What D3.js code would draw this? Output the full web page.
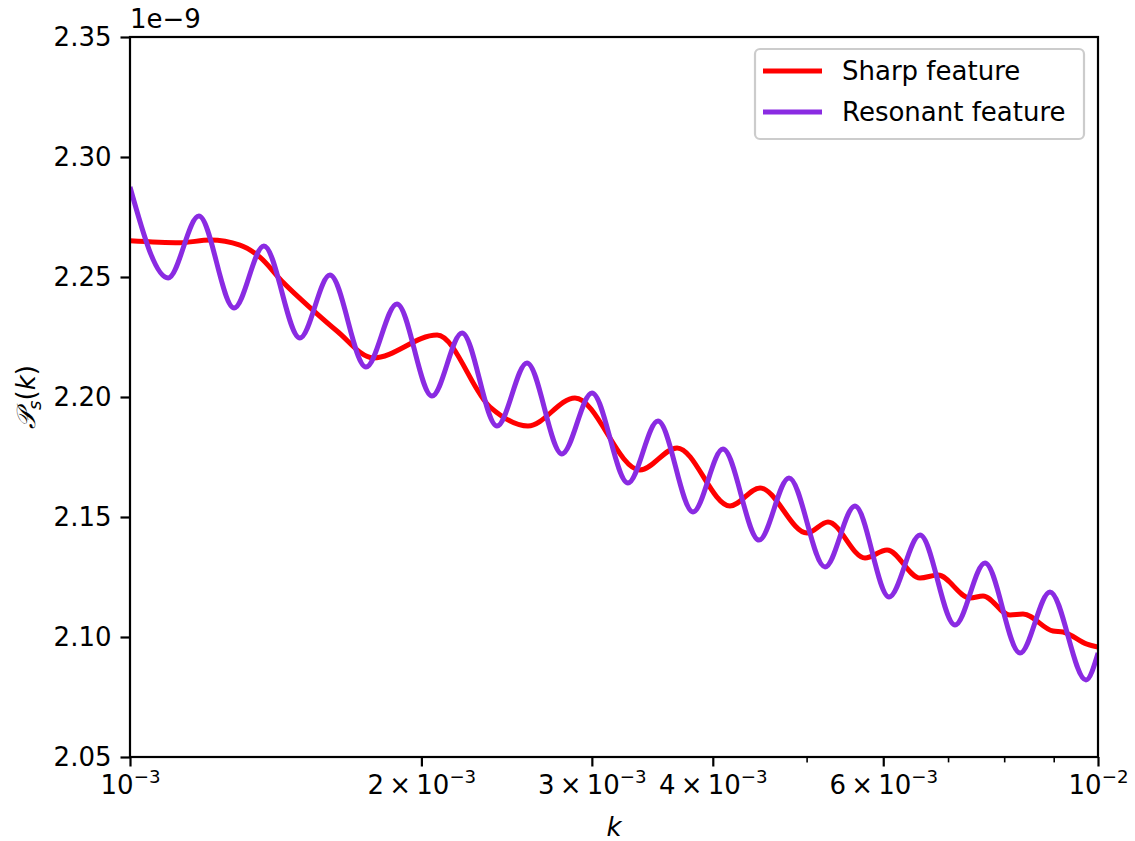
<!DOCTYPE html>
<html lang="en">
<head>
    <meta charset="UTF-8">
    <script src="https://d3js.org/d3.v7.min.js"></script>
    <title>Power spectrum features</title>
    <style>
        body { margin: 0; background: #fff; }
        svg text { font-family: "DejaVu Sans", sans-serif; fill: #000; }
    </style>
</head>
<body>
<div id="chart"></div>
<script>
    // k in units of 1e-3, P_s in units of 1e-9
    var kSharp = [1.000, 1.126, 1.210, 1.299, 1.362, 1.439, 1.545, 1.636, 1.783, 2.076, 2.355, 2.577,
                  2.882, 3.364, 3.674, 4.167, 4.476, 5.005, 5.261, 5.745, 6.054, 6.549, 6.835, 7.376,
                  7.607, 8.111, 8.366, 8.985, 9.202, 9.742, 10.000];
    var pSharp = [2.2651, 2.2643, 2.2654, 2.2633, 2.2583, 2.2478, 2.2362, 2.2275, 2.2163, 2.2258, 2.1958, 2.1879,
                  2.1996, 2.1696, 2.1788, 2.1546, 2.1621, 2.1433, 2.1479, 2.1329, 2.1363, 2.1246, 2.1258, 2.1162,
                  2.1171, 2.1092, 2.1096, 2.1025, 2.1021, 2.0970, 2.0958];

    var kRes = [1.000, 1.095, 1.178, 1.281, 1.375, 1.498, 1.609, 1.753, 1.887, 2.051, 2.203, 2.394,
                2.571, 2.794, 3.001, 3.269, 3.511, 3.816, 4.098, 4.465, 4.795, 5.224, 5.610, 6.083,
                6.549, 7.117, 7.643, 8.307, 8.921, 9.718, 10.000];
    var pRes = [2.2875, 2.2496, 2.2754, 2.2371, 2.2629, 2.2246, 2.2508, 2.2125, 2.2388, 2.2004, 2.2267, 2.1879,
                2.2142, 2.1763, 2.2017, 2.1642, 2.1900, 2.1521, 2.1783, 2.1404, 2.1663, 2.1292, 2.1546, 2.1167,
                2.1425, 2.1050, 2.1308, 2.0933, 2.1188, 2.0821, 2.0933];

    var seriesNames = ["Sharp feature", "Resonant feature"];
    var seriesColors = ["#ff0000", "#8a2be2"];

    var yTicks = [2.05, 2.10, 2.15, 2.20, 2.25, 2.30, 2.35];
    var xMajor = [1, 2, 3, 4, 6, 10];          // labelled, units of 1e-3
    var xMinor = [5, 7, 8, 9];                 // unlabelled
    var xLabelMant = {1: "", 2: "2", 3: "3", 4: "4", 6: "6", 10: ""};
    var xLabelExp = {1: "\u22123", 2: "\u22123", 3: "\u22123", 4: "\u22123", 6: "\u22123", 10: "\u22122"};

    var width = 1135, height = 841;
    var margin = {top: 37, right: 37, bottom: 84, left: 130};
    var fs = 26;

    var svg = d3.select("#chart").append("svg")
        .attr("width", width)
        .attr("height", height);

    var x = d3.scaleLog()
        .domain([1, 10])
        .range([margin.left, width - margin.right]);

    var y = d3.scaleLinear()
        .domain([2.05, 2.35])
        .range([height - margin.bottom, margin.top]);

    // curves
    var line = d3.line()
        .x(d => x(d[0]))
        .y(d => y(d[1]))
        .curve(d3.curveMonotoneX);

    svg.append("clipPath").attr("id", "plotclip")
        .append("rect")
        .attr("x", margin.left).attr("y", margin.top)
        .attr("width", width - margin.left - margin.right)
        .attr("height", height - margin.top - margin.bottom);

    var curves = [d3.zip(kSharp, pSharp), d3.zip(kRes, pRes)];
    svg.append("g").attr("clip-path", "url(#plotclip)")
        .selectAll("path")
        .data(curves)
        .join("path")
        .attr("d", line)
        .attr("fill", "none")
        .attr("stroke", (d, i) => seriesColors[i])
        .attr("stroke-width", 5)
        .attr("stroke-linejoin", "round");

    // y axis
    var gy = svg.append("g")
        .attr("transform", `translate(${margin.left},0)`)
        .call(d3.axisLeft(y).tickValues(yTicks).tickSize(9.5).tickPadding(9).tickFormat(d3.format(".2f")))
        .call(g => g.select(".domain").remove());
    gy.selectAll(".tick line").attr("stroke-width", 2.2);
    gy.selectAll(".tick text").attr("font-size", fs).attr("font-family", "DejaVu Sans");

    // x axis, major + minor ticks
    var gx = svg.append("g")
        .attr("transform", `translate(0,${height - margin.bottom})`)
        .call(d3.axisBottom(x).tickValues(xMajor).tickSize(9.5).tickFormat(""))
        .call(g => g.select(".domain").remove());
    gx.selectAll(".tick line").attr("stroke-width", 2.2);

    var gxm = svg.append("g")
        .attr("transform", `translate(0,${height - margin.bottom})`)
        .call(d3.axisBottom(x).tickValues(xMinor).tickSize(5.4).tickFormat(""))
        .call(g => g.select(".domain").remove());
    gxm.selectAll(".tick line").attr("stroke-width", 1.6);

    var xl = gx.selectAll(".tick").append("text")
        .attr("y", 37)
        .attr("text-anchor", "middle")
        .attr("font-size", fs)
        .attr("fill", "#000");
    xl.append("tspan").text(d => xLabelMant[d] ? xLabelMant[d] + "\u2009\u00d7\u200910" : "10");
    xl.append("tspan")
        .attr("dy", -11)
        .attr("font-size", fs * 0.7)
        .text(d => xLabelExp[d]);

    // frame
    svg.append("rect")
        .attr("x", margin.left).attr("y", margin.top)
        .attr("width", width - margin.left - margin.right)
        .attr("height", height - margin.top - margin.bottom)
        .attr("fill", "none")
        .attr("stroke", "#000")
        .attr("stroke-width", 2.2);

    // offset text and axis labels
    svg.append("text")
        .attr("x", margin.left)
        .attr("y", 28)
        .attr("font-size", fs)
        .text("1e\u22129");

    svg.append("text")
        .attr("x", (margin.left + width - margin.right) / 2)
        .attr("y", 836)
        .attr("text-anchor", "middle")
        .attr("font-size", fs)
        .attr("font-style", "italic")
        .text("k");

    var ylab = svg.append("text")
        .attr("transform", `translate(35,${(margin.top + height - margin.bottom) / 2}) rotate(-90)`)
        .attr("text-anchor", "middle")
        .attr("font-size", fs);
    ylab.append("tspan").attr("font-style", "italic").text("\ud835\udcab");
    ylab.append("tspan").attr("font-style", "italic").attr("font-size", fs * 0.7).attr("dy", 6).text("s");
    ylab.append("tspan").attr("dy", -6).text("(");
    ylab.append("tspan").attr("font-style", "italic").text("k");
    ylab.append("tspan").text(")");

    // legend
    var leg = svg.append("g");
    leg.append("rect")
        .attr("x", 755).attr("y", 49)
        .attr("width", 329).attr("height", 90)
        .attr("rx", 5)
        .attr("fill", "#fff").attr("fill-opacity", 0.8)
        .attr("stroke", "#cccccc")
        .attr("stroke-width", 2.2);
    var items = leg.selectAll("g.item")
        .data(seriesNames)
        .join("g")
        .attr("class", "item")
        .attr("transform", (d, i) => `translate(0,${71 + i * 41})`);
    items.append("line")
        .attr("x1", 763).attr("x2", 822)
        .attr("stroke", (d, i) => seriesColors[i])
        .attr("stroke-width", 5);
    items.append("text")
        .attr("x", 842)
        .attr("y", 9)
        .attr("font-size", fs)
        .text(d => d);
</script>
</body>
</html>
